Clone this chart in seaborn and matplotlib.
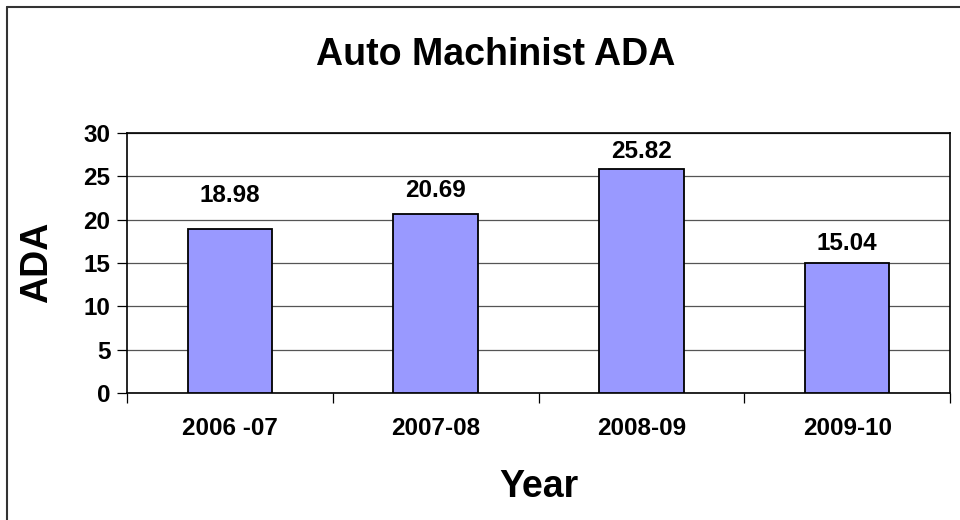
import matplotlib
matplotlib.use("Agg")
import matplotlib.pyplot as plt
from matplotlib.lines import Line2D
import seaborn as sns

years = ["2006 -07", "2007-08", "2008-09", "2009-10"]
ada = [18.98, 20.69, 25.82, 15.04]

# label lift above each bar (points), as placed in the original chart
label_lift = [24, 17, 13, 14]

sns.set_style("white")
plt.rcParams["font.family"] = ["Liberation Sans", "DejaVu Sans"]
plt.rcParams["font.weight"] = "bold"
plt.rcParams["text.color"] = "black"
plt.rcParams["axes.labelcolor"] = "black"
plt.rcParams["xtick.color"] = "black"
plt.rcParams["ytick.color"] = "black"

fig = plt.figure(figsize=(9.6, 5.2), dpi=100)
ax = fig.add_axes([127 / 960, 1 - 393 / 520, 823 / 960, 260 / 520])

sns.barplot(x=years, y=ada, color="#9999FF", saturation=1, width=0.41,
            edgecolor="black", linewidth=1.3, ax=ax, zorder=3)

ax.set_ylim(0, 30)
ax.set_xlim(-0.5, 3.5)
ax.set_yticks(range(0, 31, 5))
ax.yaxis.grid(True, color="#555555", linewidth=0.9, zorder=0)
ax.set_axisbelow(True)
for s in ax.spines.values():
    s.set_visible(True)
    s.set_color("black")
    s.set_linewidth(1.2)

ax.tick_params(axis="y", which="major", direction="out", length=7, width=0.9,
               left=True, pad=5, labelsize=17.5)
ax.set_xticks([0, 1, 2, 3])
ax.set_xticks([-0.5, 0.5, 1.5, 2.5, 3.5], minor=True)
ax.tick_params(axis="x", which="major", length=0, pad=17, labelsize=17.5)
ax.tick_params(axis="x", which="minor", direction="out", length=7, width=0.9, bottom=True)
for lab in ax.get_xticklabels() + ax.get_yticklabels():
    lab.set_fontweight("bold")

for bar, v, lift in zip(ax.containers[0], ada, label_lift):
    ax.annotate(f"{v:.2f}", (bar.get_x() + bar.get_width() / 2, bar.get_height()),
                xytext=(0, lift), textcoords="offset points",
                ha="center", va="center", fontsize=17.5, fontweight="bold")

ax.set_xlabel("Year", fontsize=27, fontweight="bold", va="center")
ax.xaxis.set_label_coords(0.5, (393 - 487) / 260)
ax.set_ylabel("ADA", fontsize=27, fontweight="bold", va="center")
ax.yaxis.set_label_coords((37 - 127) / 823, (393 - 262) / 260)
fig.text(496 / 960, 1 - 55 / 520, "Auto Machinist ADA", fontsize=27, fontweight="bold",
         ha="center", va="center")

# chart frame (top and left edges visible)
fig.add_artist(Line2D([7 / 960, 7 / 960], [0, 1 - 7 / 520], transform=fig.transFigure,
                      color="#333333", linewidth=1.5))
fig.add_artist(Line2D([7 / 960, 1], [1 - 7 / 520, 1 - 7 / 520], transform=fig.transFigure,
                      color="#333333", linewidth=1.5))

fig.savefig("out.png", dpi=100)
